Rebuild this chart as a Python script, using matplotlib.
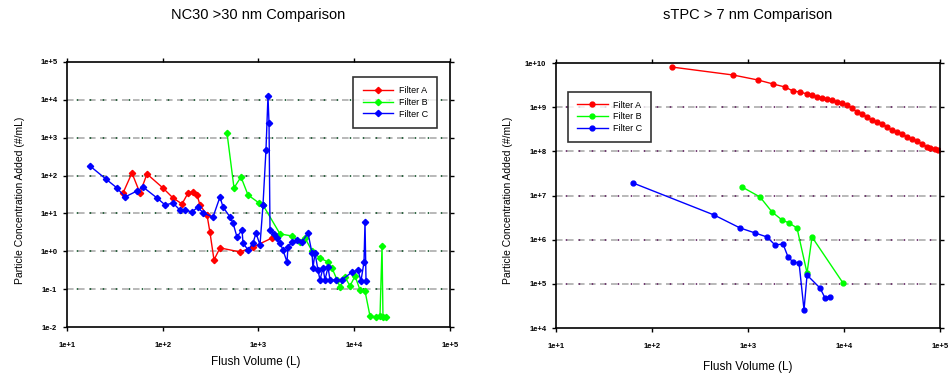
import numpy as np
import matplotlib.pyplot as plt
from matplotlib.ticker import LogLocator, NullLocator, FuncFormatter

plt.rcParams['font.family'] = ['Liberation Sans', 'DejaVu Sans']

# NC30 >30 nm - Flush Volume (L) vs concentration (#/mL)
nc_a_x = [38.5, 47.7, 57.8, 68.5, 100.7, 128, 159, 184, 207, 228, 245, 290, 311, 343, 396, 641, 877, 1384]
nc_a_y = [34.7, 117, 34.7, 110, 46.8, 25.6, 17.8, 34.7, 37, 31, 16.6, 9.1, 3.2, 0.59, 1.23, 0.96, 1.3, 2.24]

nc_b_x = [469, 555, 656, 777, 1012, 1114, 1678, 2239, 2713, 3061, 3622, 4387, 5321, 5861,
          6607, 7103, 8002, 9030, 10190, 11480, 12950, 14600, 16870, 18570, 19500, 19950, 21470]
nc_b_y = [1334, 47, 92, 30.7, 18.9, 16.7, 2.87, 2.54, 1.76, 2.24, 1.02, 0.665, 0.52, 0.362,
          0.175, 0.114, 0.21, 0.121, 0.223, 0.095, 0.089, 0.0195, 0.0184, 0.0195, 1.38, 0.0184, 0.0184]

nc_c_x = [17.4, 25.5, 33.3, 40.3, 53.8, 62.2, 87.1, 106, 128, 151, 171, 202, 233, 263, 335,
          396, 426, 504, 542, 596, 673, 689, 777, 877, 942, 1037, 1114, 1197, 1256, 1288,
          1319, 1452, 1561, 1678, 1803, 1985, 2032, 2239, 2524, 2845, 3288, 3622, 3706, 3890,
          4180, 4387, 4717, 4946, 5321, 5580, 6440, 7440, 9470, 10930, 11750, 12640, 12950, 13270]
nc_c_y = [179, 81, 47, 27.2, 39.1, 49.9, 25.6, 16.7, 18.9, 12.3, 12.3, 10.9, 14.8, 10.3, 8.05,
          27.2, 14.8, 8.05, 5.59, 2.39, 3.66, 1.66, 1.08, 1.66, 3.04, 1.47, 16.7, 474, 12650, 2449,
          3.66, 2.87, 2.24, 1.66, 1.08, 0.52, 1.30, 1.76, 1.99, 1.76, 3.04, 0.90, 0.362, 0.90,
          0.32, 0.175, 0.362, 0.175, 0.385, 0.175, 0.175, 0.175, 0.284, 0.32, 0.164, 0.52, 5.94, 0.164]

# sTPC > 7 nm
st_a_x = [161, 698, 1271, 1820, 2427, 2942, 3480, 4118, 4640, 5236, 5900, 6656, 7500, 8460,
          9530, 10740, 12110, 13650, 15400, 17360, 19580, 22070, 24900, 28050, 31620, 35650,
          40200, 45300, 51050, 57560, 65000, 73200, 78700, 88800, 95300]
st_a_y = [8.1e9, 5.35e9, 4.12e9, 3.35e9, 2.86e9, 2.32e9, 2.20e9, 1.99e9, 1.89e9, 1.70e9, 1.62e9,
          1.53e9, 1.45e9, 1.31e9, 1.24e9, 1.12e9, 9.57e8, 7.78e8, 7.0e8, 5.99e8, 5.13e8, 4.62e8,
          4.16e8, 3.56e8, 3.04e8, 2.74e8, 2.47e8, 2.11e8, 1.90e8, 1.71e8, 1.47e8, 1.25e8, 1.19e8,
          1.13e8, 1.07e8]

st_b_x = [866, 1334, 1778, 2260, 2673, 3237, 4118, 4640, 9770]
st_b_y = [1.56e7, 9.25e6, 4.24e6, 2.79e6, 2.39e6, 1.84e6, 1.76e5, 1.15e6, 1.04e5]

st_c_x = [63.4, 443, 826, 1183, 1577, 1910, 2316, 2612, 2942, 3400, 3830, 4118, 5620, 6340, 7140]
st_c_y = [1.92e7, 3.62e6, 1.84e6, 1.42e6, 1.15e6, 7.59e5, 7.98e5, 4.05e5, 3.12e5, 2.97e5,
          2.56e4, 1.58e5, 8.05e4, 4.79e4, 5.04e4]

labels = ['Filter A', 'Filter B', 'Filter C']
colors = ['#ff0000', '#00ff00', '#0000ff']

fig = plt.figure(figsize=(9.5, 3.75), dpi=100)
ax1 = fig.add_axes([0.0705, 0.128, 0.4032, 0.7067])
ax2 = fig.add_axes([0.5853, 0.1253, 0.4042, 0.7067])


def fmt(v, pos):
    return '1e%+d' % int(round(np.log10(v)))


def style(ax, ylim, dotcol):
    ax.set_xscale('log')
    ax.set_yscale('log')
    ax.set_xlim(10, 1e5)
    ax.set_ylim(*ylim)
    ax.xaxis.set_major_locator(LogLocator(base=10, numticks=10))
    ax.yaxis.set_major_locator(LogLocator(base=10, numticks=10))
    ax.xaxis.set_minor_locator(NullLocator())
    ax.yaxis.set_minor_locator(NullLocator())
    ax.xaxis.set_major_formatter(FuncFormatter(fmt))
    ax.yaxis.set_major_formatter(FuncFormatter(fmt))
    ax.tick_params(axis='both', direction='out', length=3, width=1, labelsize=5.5,
                   top=True, right=True)
    ax.tick_params(axis='x', pad=8)
    ax.tick_params(axis='y', pad=4)
    for lab in ax.get_xticklabels() + ax.get_yticklabels():
        lab.set_fontweight('bold')
    for sp in ax.spines.values():
        sp.set_linewidth(1.2)
    lo, hi = ylim
    for t in ax.get_yticks():
        if lo < t < hi:
            ax.axhline(t, color='#a6a6a6', lw=1.1, linestyle=(0, (4.3, 2.9)), zorder=0)
            ax.axhline(t, color=dotcol, lw=1.3, linestyle=(1.8, (0.8, 6.4)), zorder=0)


style(ax1, (1e-2, 1e5), '#1f5c35')
style(ax2, (1e4, 1e10), '#6a2f6a')

for x, y, lab, c in zip([nc_a_x, nc_b_x, nc_c_x], [nc_a_y, nc_b_y, nc_c_y], labels, colors):
    ax1.plot(x, y, color=c, lw=1, marker='D', markersize=3.2, label=lab)
for x, y, lab, c in zip([st_a_x, st_b_x, st_c_x], [st_a_y, st_b_y, st_c_y], labels, colors):
    ax2.plot(x, y, color=c, lw=1, marker='o', markersize=3.5, label=lab)

for ax, anchor in [(ax1, (0.748, 0.943)), (ax2, (0.031, 0.892))]:
    leg = ax.legend(loc='upper left', bbox_to_anchor=anchor, fontsize=6.5, frameon=True,
                    fancybox=False, edgecolor='black', handlelength=3.4, labelspacing=0.3,
                    borderpad=1.0, handletextpad=0.6, borderaxespad=0)
    leg.get_frame().set_linewidth(1.2)

fig.text(258.5 / 950, 1 - 15 / 375, 'NC30 >30 nm Comparison', ha='center', va='center', fontsize=10.5)
fig.text(748 / 950, 1 - 15 / 375, 'sTPC > 7 nm Comparison', ha='center', va='center', fontsize=10.5)
fig.text(256 / 950, 1 - 362 / 375, 'Flush Volume (L)', ha='center', va='center', fontsize=8.5)
fig.text(748 / 950, 1 - 367 / 375, 'Flush Volume (L)', ha='center', va='center', fontsize=8.5)
fig.text(20 / 950, 1 - 200 / 375, 'Particle Concentration Added (#/mL)', ha='center', va='center',
         rotation=90, fontsize=7.5)
fig.text(508 / 950, 1 - 200 / 375, 'Particle Concentration Added (#/mL)', ha='center', va='center',
         rotation=90, fontsize=7.5)

fig.savefig('out.png', dpi=100)
